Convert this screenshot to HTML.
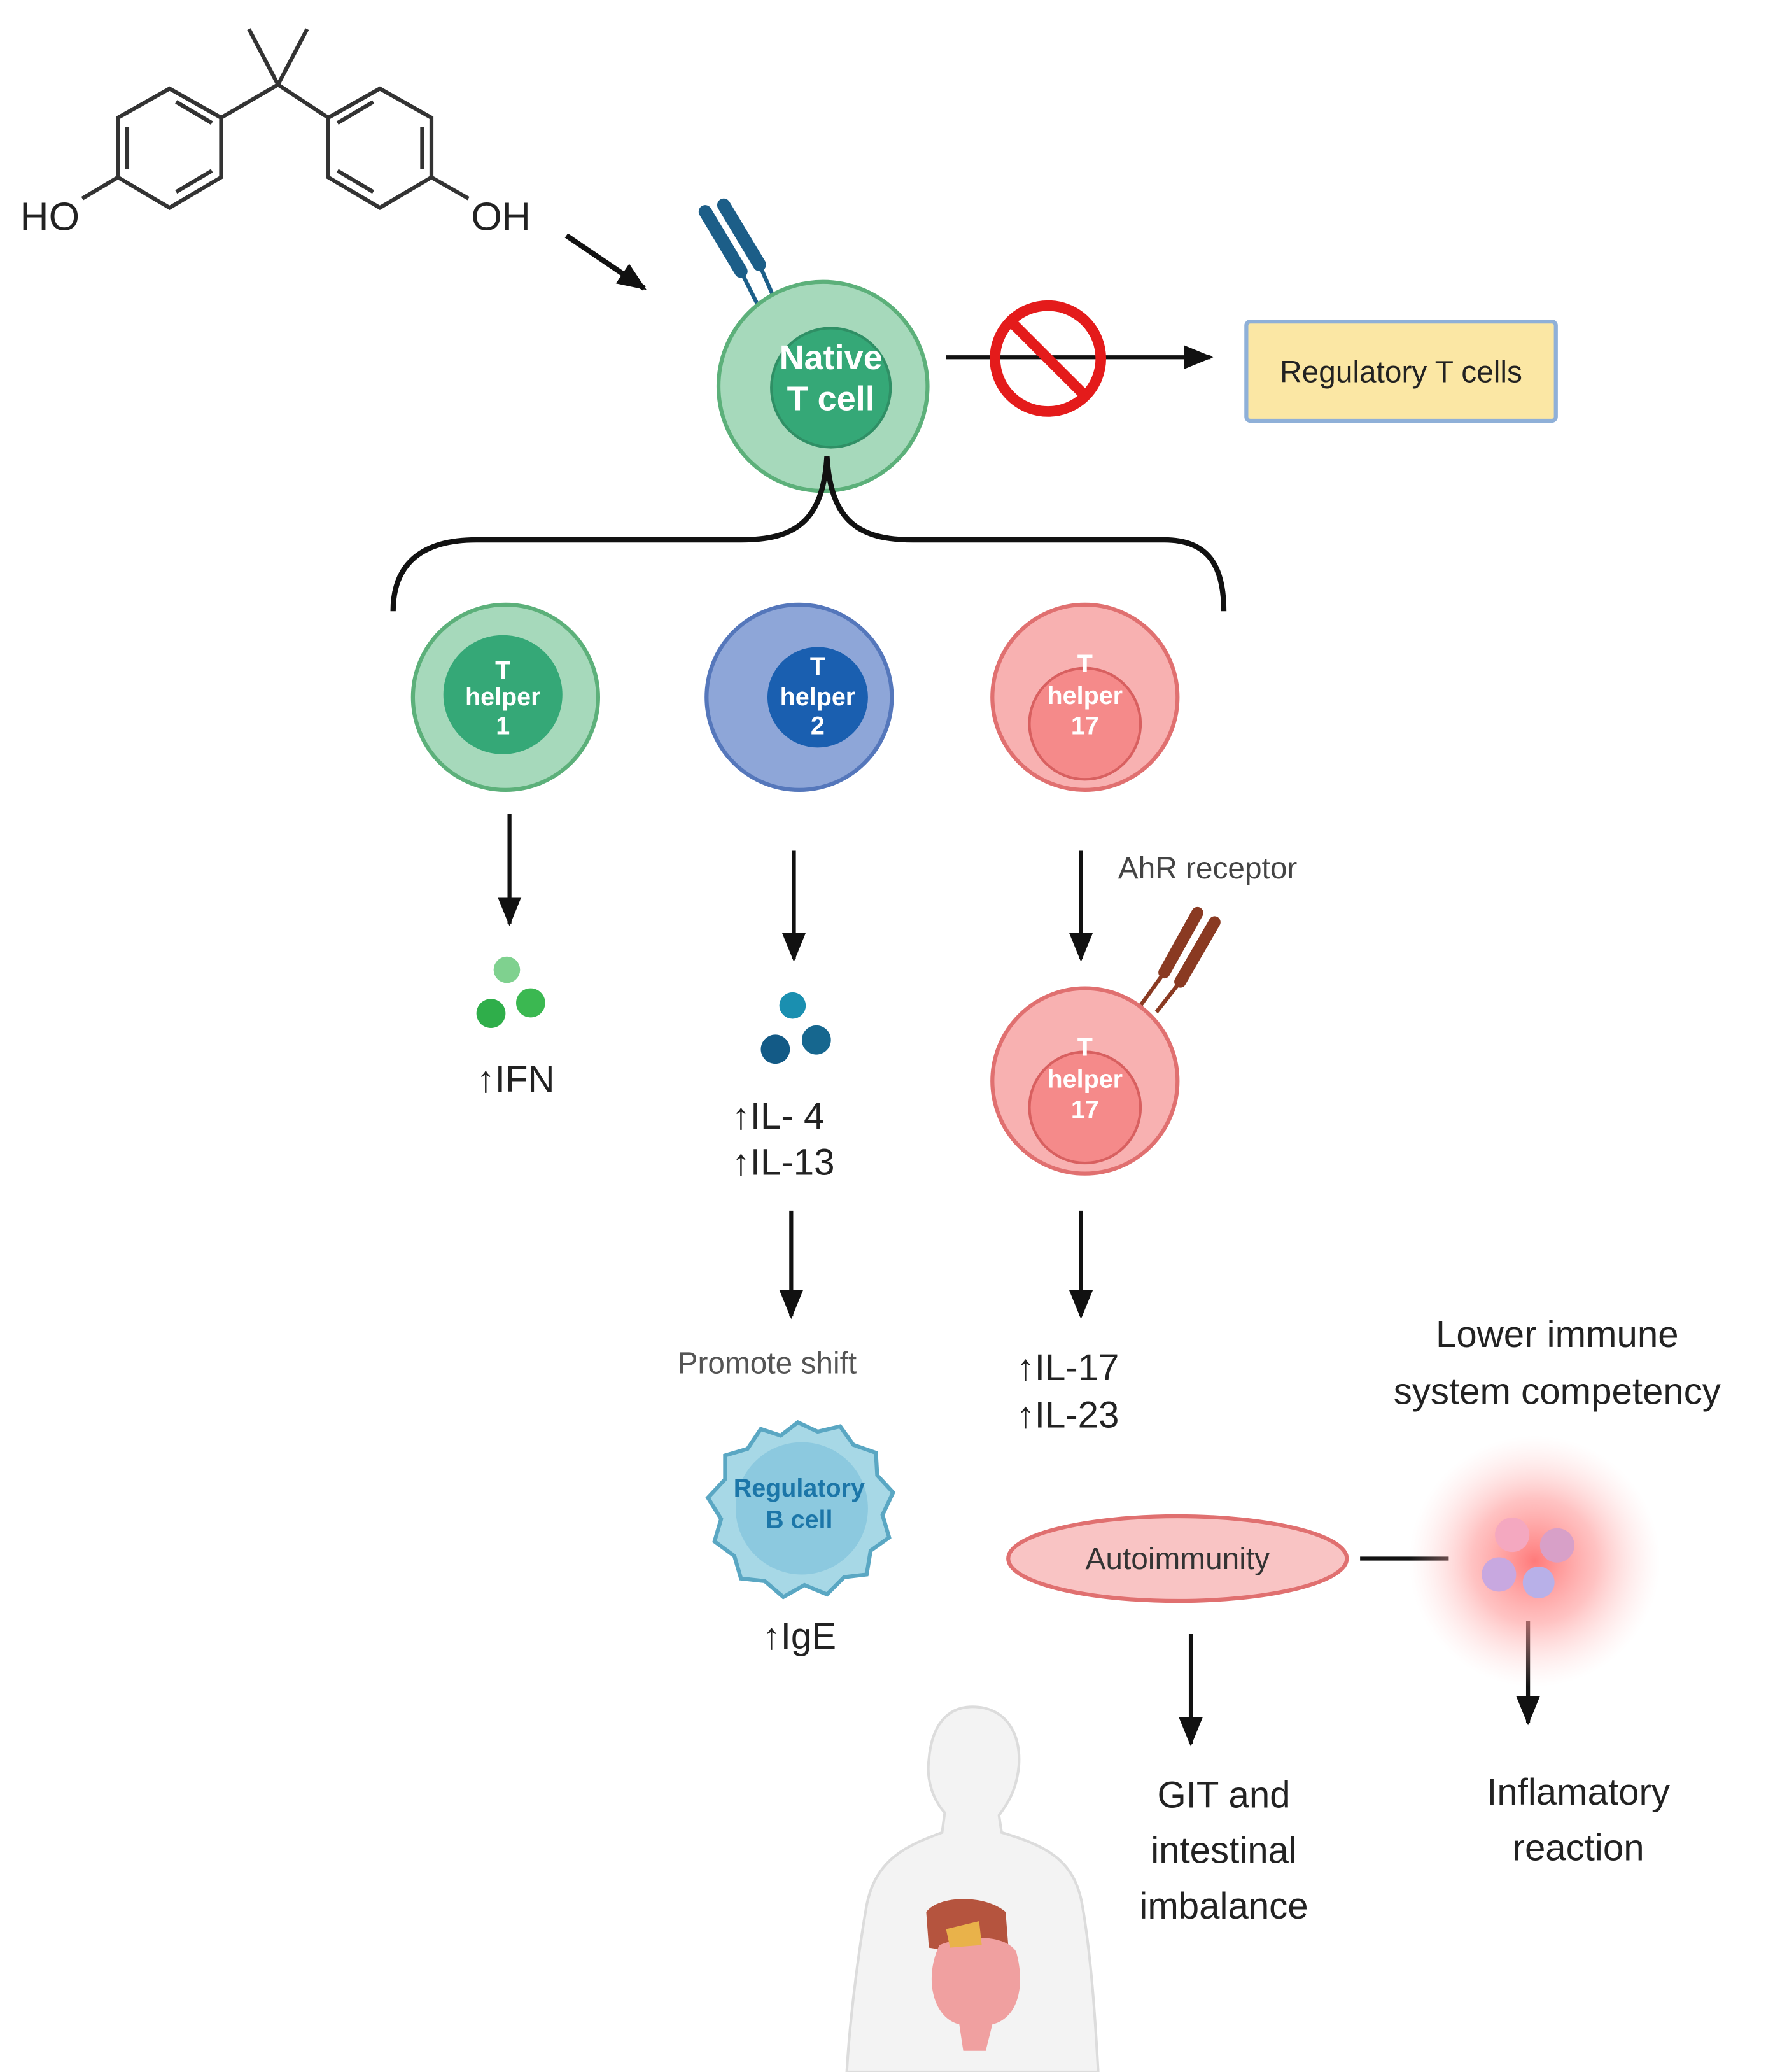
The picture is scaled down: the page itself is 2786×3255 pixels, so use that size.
<!DOCTYPE html>
<html><head><meta charset="utf-8"><style>
html,body{margin:0;padding:0;background:#fff;}
svg{display:block;}
text{font-family:"Liberation Sans",sans-serif;}
</style></head><body>
<svg width="2786" height="3255" viewBox="0 0 1340 1566" xmlns="http://www.w3.org/2000/svg">
<defs>
<marker id="ah" markerWidth="10" markerHeight="10" refX="8" refY="5" orient="auto" markerUnits="userSpaceOnUse"><path d="M0,0 L10,5 L0,10 z" fill="#111"/></marker>
<marker id="ah2" markerWidth="22" markerHeight="18" refX="20" refY="9" orient="auto" markerUnits="userSpaceOnUse"><path d="M0,0 L22,9 L0,18 z" fill="#111"/></marker>
<radialGradient id="glow"><stop offset="0" stop-color="#ff6b6b" stop-opacity="0.9"/><stop offset="0.5" stop-color="#ff9a9a" stop-opacity="0.6"/><stop offset="1" stop-color="#ffd0d0" stop-opacity="0"/></radialGradient>
</defs>
<rect width="1340" height="1566" fill="#fff"/>
<!-- BPA -->
<g stroke="#333" stroke-width="3" fill="none">
<polygon points="128,67 167,89 167,134 128,157 89,134 89,89"/>
<polyline points="133,77 160,93 M160,129 133,145 M96,129 96,94" />
<line x1="160" y1="93" x2="133" y2="77"/><line x1="160" y1="129" x2="133" y2="145"/><line x1="96" y1="96" x2="96" y2="128"/>
<polygon points="287,67 326,89 326,134 287,157 248,134 248,89"/>
<line x1="255" y1="93" x2="282" y2="77"/><line x1="255" y1="129" x2="282" y2="145"/><line x1="319" y1="96" x2="319" y2="128"/>
<polyline points="167,89 210,64 248,89"/>
<line x1="210" y1="64" x2="188" y2="22"/><line x1="210" y1="64" x2="232" y2="22"/>
<line x1="89" y1="134" x2="62" y2="150"/><line x1="326" y1="134" x2="354" y2="150"/>
</g>
<text x="15" y="174" font-size="30" fill="#222">HO</text>
<text x="356" y="174" font-size="30" fill="#222">OH</text>
<line x1="428" y1="178" x2="487" y2="218" stroke="#111" stroke-width="4" marker-end="url(#ah2)"/>
<!-- Native T cell receptor -->
<g stroke="#1c5e88" stroke-width="10" stroke-linecap="round"><line x1="533" y1="160" x2="560" y2="205"/><line x1="547" y1="155" x2="574" y2="200"/></g>
<g stroke="#1c5e88" stroke-width="3"><line x1="560" y1="205" x2="575" y2="235"/><line x1="574" y1="200" x2="588" y2="232"/></g>
<circle cx="622" cy="292" r="79" fill="#a6d9bb" stroke="#5cb07a" stroke-width="3"/>
<circle cx="628" cy="293" r="45" fill="#35a877" stroke="#2f8f65" stroke-width="2"/>
<text x="628" y="279" font-size="26" font-weight="bold" fill="#fff" text-anchor="middle">Native</text>
<text x="628" y="310" font-size="26" font-weight="bold" fill="#fff" text-anchor="middle">T cell</text>
<line x1="715" y1="270" x2="915" y2="270" stroke="#111" stroke-width="3" marker-end="url(#ah2)"/>
<circle cx="792" cy="271" r="40" fill="none" stroke="#e41b1b" stroke-width="8"/>
<line x1="764" y1="243" x2="820" y2="299" stroke="#e41b1b" stroke-width="8"/>
<rect x="942" y="243" width="234" height="75" rx="3" fill="#fbe7a4" stroke="#8fb0d8" stroke-width="3"/>
<text x="1059" y="289" font-size="23" fill="#222" text-anchor="middle">Regulatory T cells</text>
<!-- brace -->
<path d="M297,462 C297,425 320,408 360,408 L560,408 C600,408 622,395 625,345 C628,395 650,408 690,408 L880,408 C915,408 925,430 925,462" fill="none" stroke="#111" stroke-width="4"/>
<!-- Th1 -->
<circle cx="382" cy="527" r="70" fill="#a6d9bb" stroke="#5cb07a" stroke-width="3"/>
<circle cx="380" cy="525" r="45" fill="#35a877"/>
<text x="380" y="513" font-size="19" font-weight="bold" fill="#fff" text-anchor="middle">T</text>
<text x="380" y="533" font-size="19" font-weight="bold" fill="#fff" text-anchor="middle">helper</text>
<text x="380" y="555" font-size="19" font-weight="bold" fill="#fff" text-anchor="middle">1</text>
<!-- Th2 -->
<circle cx="604" cy="527" r="70" fill="#8ea6d8" stroke="#5577bb" stroke-width="3"/>
<circle cx="618" cy="527" r="38" fill="#1a5fb0"/>
<text x="618" y="510" font-size="19" font-weight="bold" fill="#fff" text-anchor="middle">T</text>
<text x="618" y="533" font-size="19" font-weight="bold" fill="#fff" text-anchor="middle">helper</text>
<text x="618" y="555" font-size="19" font-weight="bold" fill="#fff" text-anchor="middle">2</text>
<!-- Th17 -->
<circle cx="820" cy="527" r="70" fill="#f8b1b1" stroke="#e07070" stroke-width="3"/>
<circle cx="820" cy="547" r="42" fill="#f58a8a" stroke="#d86060" stroke-width="2"/>
<text x="820" y="508" font-size="19" font-weight="bold" fill="#fff" text-anchor="middle">T</text>
<text x="820" y="532" font-size="19" font-weight="bold" fill="#fff" text-anchor="middle">helper</text>
<text x="820" y="555" font-size="19" font-weight="bold" fill="#fff" text-anchor="middle">17</text>
<!-- arrows -->
<g stroke="#111" stroke-width="3" marker-end="url(#ah2)">
<line x1="385" y1="615" x2="385" y2="698"/>
<line x1="600" y1="643" x2="600" y2="725"/>
<line x1="817" y1="643" x2="817" y2="725"/>
<line x1="598" y1="915" x2="598" y2="995"/>
<line x1="817" y1="915" x2="817" y2="995"/>
<line x1="900" y1="1235" x2="900" y2="1318"/>
<line x1="1155" y1="1225" x2="1155" y2="1302"/>
</g>
<text x="845" y="664" font-size="23" fill="#444">AhR receptor</text>
<circle cx="383" cy="733" r="10" fill="#7fd18f"/><circle cx="371" cy="766" r="11" fill="#2fae4a"/><circle cx="401" cy="758" r="11" fill="#3bb851"/>
<circle cx="599" cy="760" r="10" fill="#1a8fb0"/><circle cx="586" cy="793" r="11" fill="#135a86"/><circle cx="617" cy="786" r="11" fill="#16678f"/>
<text x="360" y="825" font-size="28" fill="#222">↑IFN</text>
<text x="553" y="853" font-size="28" fill="#222">↑IL- 4</text>
<text x="553" y="888" font-size="28" fill="#222">↑IL-13</text>
<!-- Th17 #2 + receptor -->
<g stroke="#8a3a22" stroke-width="9" stroke-linecap="round"><line x1="905" y1="690" x2="880" y2="735"/><line x1="918" y1="697" x2="892" y2="742"/></g>
<g stroke="#8a3a22" stroke-width="3"><line x1="880" y1="735" x2="862" y2="760"/><line x1="892" y1="742" x2="874" y2="765"/></g>
<circle cx="820" cy="817" r="70" fill="#f8b1b1" stroke="#e07070" stroke-width="3"/>
<circle cx="820" cy="837" r="42" fill="#f58a8a" stroke="#d86060" stroke-width="2"/>
<text x="820" y="798" font-size="19" font-weight="bold" fill="#fff" text-anchor="middle">T</text>
<text x="820" y="822" font-size="19" font-weight="bold" fill="#fff" text-anchor="middle">helper</text>
<text x="820" y="845" font-size="19" font-weight="bold" fill="#fff" text-anchor="middle">17</text>
<text x="512" y="1038" font-size="23" fill="#555">Promote shift</text>
<!-- Reg B cell -->
<path d="M603,1075 L618,1082 L635,1078 L645,1092 L662,1098 L663,1115 L675,1128 L667,1145 L672,1162 L658,1172 L655,1190 L638,1192 L625,1205 L608,1198 L592,1207 L578,1195 L560,1193 L555,1176 L540,1165 L545,1148 L535,1132 L548,1118 L548,1100 L565,1095 L575,1080 L590,1085 z" fill="#a7d8e6" stroke="#5aa7c3" stroke-width="3"/>
<circle cx="606" cy="1140" r="50" fill="#8cc9df"/>
<text x="604" y="1131" font-size="19" font-weight="bold" fill="#1c76a8" text-anchor="middle">Regulatory</text>
<text x="604" y="1155" font-size="19" font-weight="bold" fill="#1c76a8" text-anchor="middle">B cell</text>
<text x="576" y="1246" font-size="28" fill="#222">↑IgE</text>
<text x="768" y="1043" font-size="28" fill="#222">↑IL-17</text>
<text x="768" y="1079" font-size="28" fill="#222">↑IL-23</text>
<text x="1177" y="1018" font-size="28" fill="#222" text-anchor="middle">Lower immune</text>
<text x="1177" y="1061" font-size="28" fill="#222" text-anchor="middle">system competency</text>
<ellipse cx="890" cy="1178" rx="128" ry="32" fill="#f9c4c4" stroke="#e07070" stroke-width="3"/>
<text x="890" y="1186" font-size="23" fill="#333" text-anchor="middle">Autoimmunity</text>
<line x1="1028" y1="1178" x2="1095" y2="1178" stroke="#111" stroke-width="3"/>
<circle cx="1160" cy="1180" r="95" fill="url(#glow)"/>
<circle cx="1143" cy="1160" r="13" fill="#f4a8c0"/><circle cx="1177" cy="1168" r="13" fill="#d8a0c8"/>
<circle cx="1133" cy="1190" r="13" fill="#c8a8e0"/><circle cx="1163" cy="1196" r="12" fill="#b8b0e8"/>
<text x="925" y="1366" font-size="28" fill="#222" text-anchor="middle">GIT and</text>
<text x="925" y="1408" font-size="28" fill="#222" text-anchor="middle">intestinal</text>
<text x="925" y="1450" font-size="28" fill="#222" text-anchor="middle">imbalance</text>
<text x="1193" y="1364" font-size="28" fill="#222" text-anchor="middle">Inflamatory</text>
<text x="1193" y="1406" font-size="28" fill="#222" text-anchor="middle">reaction</text>
<!-- human -->
<g fill="#f3f3f3" stroke="#dcdcdc" stroke-width="2">
<path d="M735,1290 C760,1290 772,1310 770,1335 C768,1355 760,1365 755,1372 L757,1385 C790,1395 812,1405 818,1440 C825,1480 828,1530 830,1566 L640,1566 C642,1530 648,1480 655,1440 C662,1405 685,1395 712,1385 L714,1370 C705,1360 700,1345 702,1330 C704,1305 715,1290 735,1290 z"/>
</g>
<path d="M700,1445 C710,1432 745,1432 760,1445 L762,1470 L740,1478 L702,1472 z" fill="#b5543e"/>
<path d="M710,1470 C730,1462 760,1462 768,1475 C775,1500 770,1525 750,1530 L745,1550 L728,1550 L725,1530 C705,1525 698,1495 710,1470 z" fill="#f0a0a0"/>
<path d="M715,1458 L740,1452 L742,1470 L718,1472 z" fill="#e9b24a"/>
</svg>
</body></html>
